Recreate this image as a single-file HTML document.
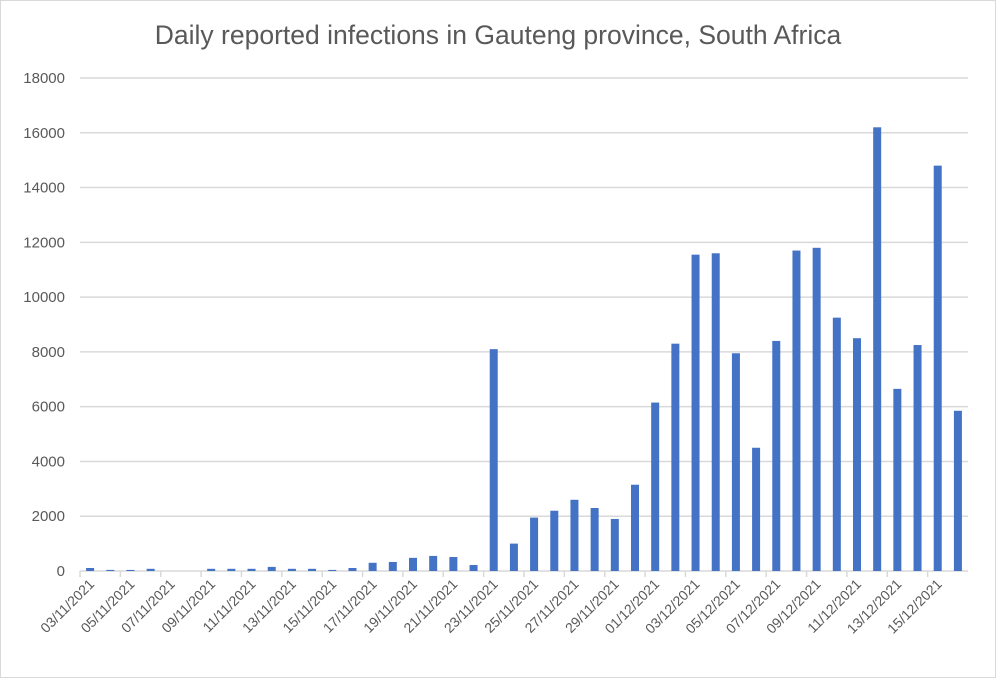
<!DOCTYPE html>
<html><head><meta charset="utf-8"><style>
body{margin:0;background:#fff;}
svg{display:block;font-family:"Liberation Sans",sans-serif;}
</style></head><body>
<svg id="c" width="996" height="678">
<rect x="0.5" y="0.5" width="995" height="677" fill="#fff" stroke="#d9d9d9"/>
<text x="498" y="44" text-anchor="middle" font-size="26.5" fill="#595959">Daily reported infections in Gauteng province, South Africa</text>
</svg>
<script>
const dates=[];
for(let d=3;d<=30;d++)dates.push(String(d).padStart(2,'0')+'/11/2021');
for(let d=1;d<=16;d++)dates.push(String(d).padStart(2,'0')+'/12/2021');
const values=[110,40,40,80,0,0,80,80,80,150,80,80,40,110,300,330,480,550,510,220,8100,1000,1950,2200,2600,2300,1900,3150,6150,8300,11550,11600,7950,4500,8400,11700,11800,9250,8500,16200,6650,8250,14800,5850];
const yTicks=[0,2000,4000,6000,8000,10000,12000,14000,16000,18000];
const svg=document.getElementById('c');const NS='http://www.w3.org/2000/svg';
const X0=80,X1=968,Y0=571,Y1=78,YMAX=18000;
const cw=(X1-X0)/dates.length;
const y=v=>Y0-(v/YMAX)*(Y0-Y1);
const xc=i=>X0+cw*(i+0.5);
function mk(t,a){const e=document.createElementNS(NS,t);for(const k in a)e.setAttribute(k,a[k]);svg.appendChild(e);return e;}
yTicks.forEach(v=>{
 const l=mk('line',{x1:X0,x2:X1,y1:y(v),y2:y(v),stroke:'#d9d9d9','stroke-width':1.5});
 
 
 const t=mk('text',{x:65,y:y(v)+5,'text-anchor':'end','font-size':15,fill:'#595959'});
 t.textContent=v;
 
 
});
dates.forEach((d,i)=>{
 if(i%2===0){
  const tx=X0+cw*i;
  const tk=mk('line',{x1:tx,x2:tx,y1:Y0,y2:Y0+6,stroke:'#d9d9d9','stroke-width':1.5});
  
  
 }
 const b=mk('rect',{x:xc(i)-4,y:y(values[i]),width:8,height:Y0-y(values[i]),fill:'#4472c4'});
 
 
 if(i%2===0){
  const t=mk('text',{x:0,y:0,'text-anchor':'end','font-size':14,fill:'#595959',transform:`translate(${xc(i)+5},${Y0+14}) rotate(-45)`});
  t.textContent=d;
  
  
 }
});
</script>
</body></html>
